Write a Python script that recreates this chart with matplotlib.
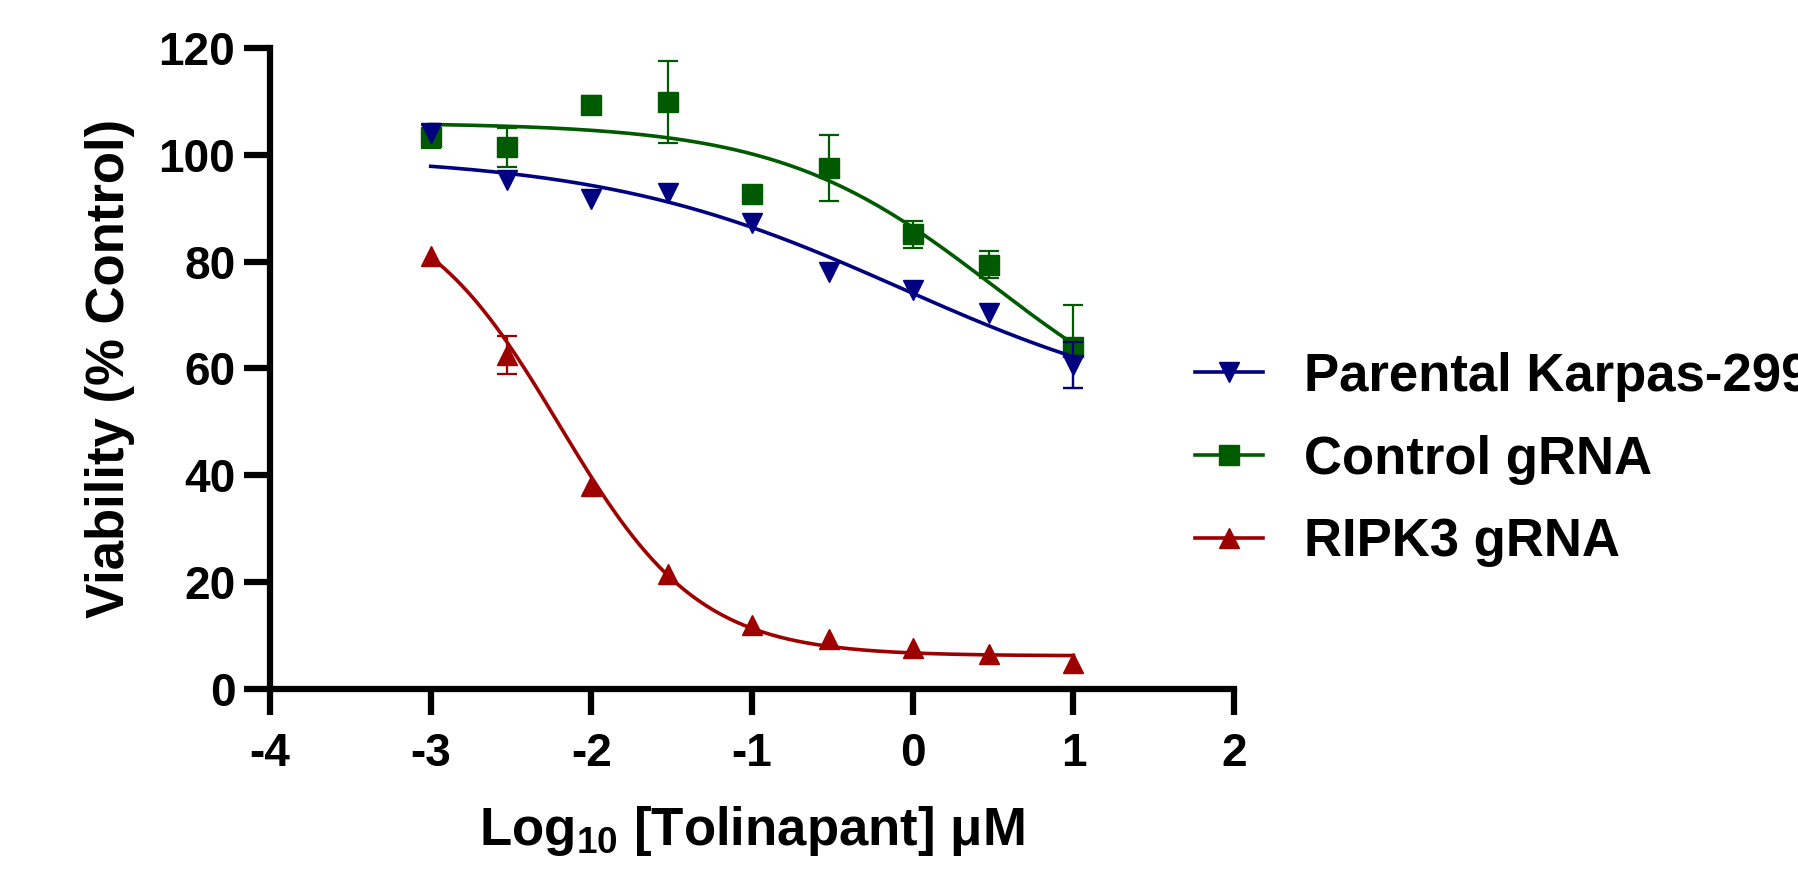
import numpy as np
import matplotlib
matplotlib.use('Agg')
import matplotlib.pyplot as plt
from matplotlib.lines import Line2D

# concentrations (uM) -> log10 on the x axis
conc = [0.001, 0.003, 0.01, 0.03, 0.1, 0.3, 1, 3, 10]

series_names = ['Parental Karpas-299', 'Control gRNA', 'RIPK3 gRNA']

# mean viability (% control)
parental = [104.1, 95.3, 91.8, 92.8, 87.3, 78.1, 74.6, 70.3, 60.7]
control = [103.4, 101.4, 109.4, 109.9, 92.6, 97.6, 85.1, 79.4, 64.1]
ripk3 = [81.1, 62.5, 38.0, 21.6, 12.0, 9.3, 7.6, 6.5, 4.9]

# error bars (only the ones that show past the markers), nan = hidden
parental_err = [np.nan, np.nan, np.nan, np.nan, np.nan, np.nan, np.nan, np.nan, 4.3]
control_err = [2.2, 3.7, 1.6, 7.7, np.nan, 6.2, 2.5, 2.5, 7.8]
ripk3_err = [np.nan, 3.6, np.nan, np.nan, np.nan, np.nan, np.nan, np.nan, np.nan]

# 4-parameter logistic fits: top, bottom, logIC50, hill slope
parental_fit = [100.0, 50.0, -0.07, 0.46]
control_fit = [106.0, 45.0, 0.5, 0.65]
ripk3_fit = [92.7, 6.2, -2.2, 1.0]

colors = ['#000080', '#005A00', '#9E0000']
markers = ['v', 's', '^']

plt.rcParams.update({'font.family': 'Liberation Sans',
                     'font.weight': 'bold',
                     'axes.unicode_minus': False,
                     'mathtext.fontset': 'custom',
                     'mathtext.rm': 'Liberation Sans:bold',
                     'mathtext.it': 'Liberation Sans:bold',
                     'mathtext.bf': 'Liberation Sans:bold'})

fig = plt.figure(figsize=(17.99, 8.71), dpi=100)
ax = fig.add_axes([0.1501, 0.2090, 0.5359, 0.7359])

logx = np.log10(conc)
xfit = np.linspace(logx[0], logx[-1], 300)

means = [parental, control, ripk3]
errs = [parental_err, control_err, ripk3_err]
fits = [parental_fit, control_fit, ripk3_fit]
zorders = [5, 3, 4]

for y, e, p, c, m, z in zip(means, errs, fits, colors, markers, zorders):
    y = np.array(y)
    e = np.array(e)
    top, bottom, logic50, hill = p
    yfit = bottom + (top - bottom) / (1 + 10 ** ((xfit - logic50) * hill))
    ax.plot(xfit, yfit, color=c, lw=2.6, zorder=z, clip_on=False)
    ok = ~np.isnan(e)
    ax.errorbar(logx[ok], y[ok], yerr=e[ok], fmt='none', ecolor=c,
                elinewidth=1.6, capsize=7, capthick=1.6, zorder=z, clip_on=False)
    ax.plot(logx, y, ls='none', marker=m, ms=15, color=c, zorder=z + 0.5,
            clip_on=False)

ax.set_xlim(-4, 2)
ax.set_ylim(0, 120)
ax.set_xticks(range(-4, 3))
ax.set_yticks(range(0, 121, 20))

for side in ['top', 'right']:
    ax.spines[side].set_visible(False)
for side in ['left', 'bottom']:
    ax.spines[side].set_linewidth(4.5)
ax.tick_params(axis='both', length=19, width=4.5, labelsize=33)
ax.tick_params(axis='x', pad=12)
ax.tick_params(axis='y', pad=6)

ax.set_xlabel(r'Log$_{10}$ [Tolinapant] μM', fontsize=38, fontweight='bold')
ax.set_ylabel('Viability (% Control)', fontsize=38, fontweight='bold')
ax.xaxis.set_label_coords(0.5, -0.18)
ax.yaxis.set_label_coords(-0.14, 0.5)

handles = []
for c, m in zip(colors, markers):
    handles.append(Line2D([], [], color=c, lw=2.6, marker=m, ms=15))
fig.legend(handles, series_names, loc='upper left',
           bbox_to_anchor=(0.6643, 0.596), frameon=False, fontsize=38,
           handlelength=1.29, handletextpad=0.78, labelspacing=0.62,
           borderpad=0, borderaxespad=0)

fig.savefig('out.png', dpi=100)
